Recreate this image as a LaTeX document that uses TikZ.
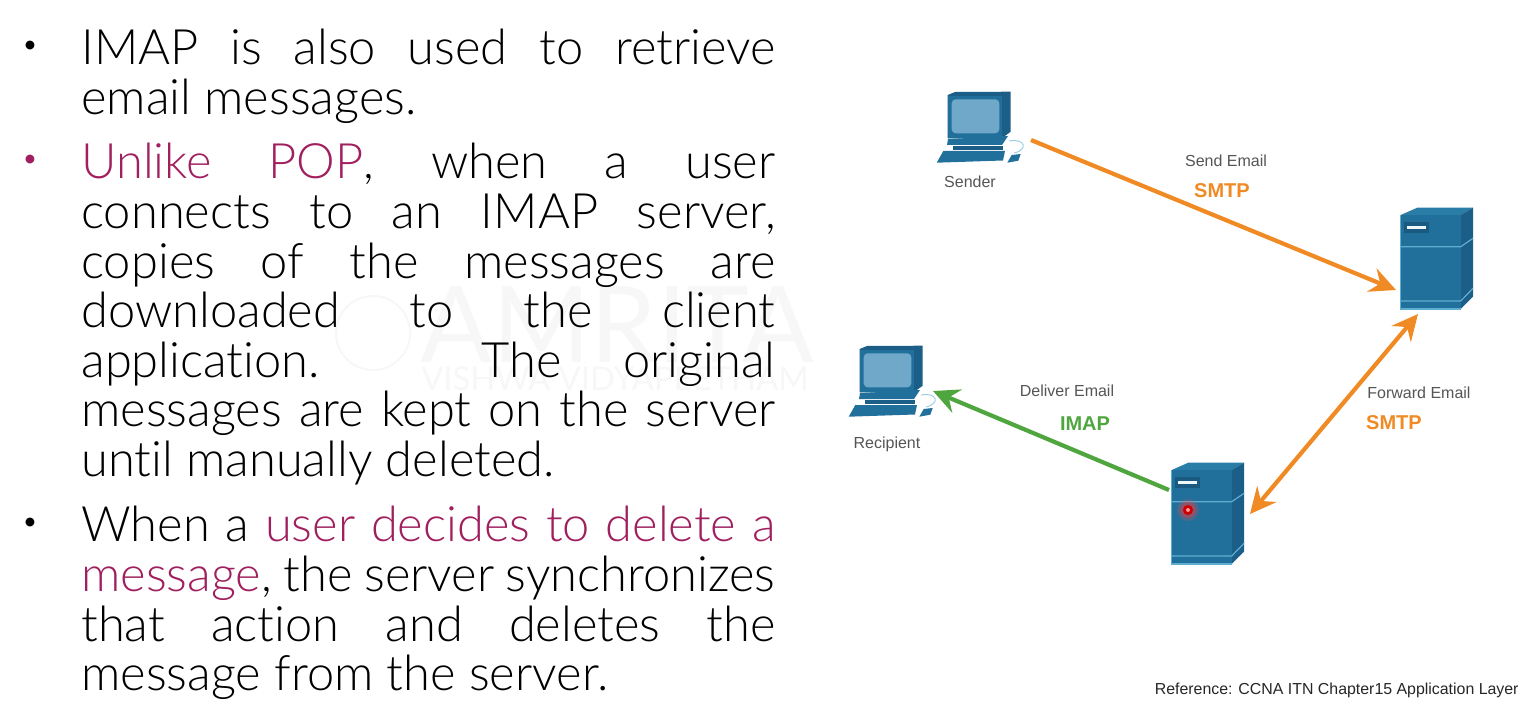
\documentclass[tikz,border=0pt]{standalone}
\usepackage{fontspec}
\setmainfont{Lato}[UprightFont=* Light,Ligatures=NoCommon]
\newfontfamily\labelfont{Liberation Sans}
\newfontfamily\markfont{Lato}
\usetikzlibrary{arrows.meta,positioning,calc}
\definecolor{maroontext}{HTML}{A01F5E}
\definecolor{srvfront}{HTML}{21709C}
\definecolor{srvside}{HTML}{1B5F88}
\definecolor{srvtop}{HTML}{2A7DA6}
\definecolor{srvedge}{HTML}{5FAED0}
\definecolor{srvdark}{HTML}{1A5A80}
\definecolor{pcscreen}{HTML}{6FA8C8}
\definecolor{mailorange}{HTML}{F08A24}
\definecolor{mailgreen}{HTML}{4FA63F}
\definecolor{labelgrey}{HTML}{555555}
\tikzset{
  slidetext/.style={anchor=north west,inner sep=0pt,text width=347pt,align=justify,
    font=\fontsize{24.4}{24.8}\selectfont,text=black},
  bulletdot/.style={anchor=center,inner sep=0pt,font=\fontsize{15}{15}\selectfont},
  hostlabel/.style={inner sep=0pt,font=\labelfont\fontsize{8}{9}\selectfont,text=labelgrey},
  protolabel/.style={inner sep=0pt,font=\labelfont\bfseries\fontsize{10}{12}\selectfont},
  mailarrow/.style={line width=2.1pt,-{Stealth[length=13pt,width=12.5pt,inset=4.5pt]}},
  mailboth/.style={line width=2.1pt,{Stealth[length=13pt,width=12.5pt,inset=4.5pt]}-{Stealth[length=13pt,width=12.5pt,inset=4.5pt]}},
  pcicon/.pic={
    % monitor
    \fill[srvside] (27.7,25) -- (35,22) -- (90.7,21.7) -- (90.7,61.7) -- (81.7,68.3) -- (27.7,68.3) -- cycle;
    \fill[srvfront] (27.7,26) -- (81.7,26) -- (81.7,68.3) -- (27.7,68.3) -- cycle;
    \fill[pcscreen,rounded corners=2pt] (31.7,29.3) rectangle (79.3,63.3);
    % base
    \fill[srvfront] (28,69) -- (88,66) -- (82,75) -- (27,75) -- cycle;
    \fill[srvside] (33,76) rectangle (83,80);
    % keyboard and mouse
    \fill[srvfront] (16.7,92.7) -- (23.3,81) -- (85,81) -- (83,90.5) -- cycle;
    \fill[srvfront] (87.3,92.7) -- (91.7,85) -- (100.7,84) -- (98.3,90.7) -- cycle;
    \draw[srvedge!60,line width=.5pt] (89,71) .. controls (106,68) and (108,80) .. (94,83);
  },
  srvicon/.pic={
    % body of the tower
    \fill[srvtop] (41.7,30) -- (58.3,22.7) -- (114,22.7) -- (101.7,30) -- cycle;
    \fill[srvside] (101.7,30) -- (114,22.7) -- (114,111.7) -- (101.7,124) -- cycle;
    \fill[srvfront] (41.7,30) rectangle (101.7,124);
    % light edges
    \draw[srvedge,line width=.6pt] (41.7,30) -- (41.7,124) -- (101.7,124);
    \draw[srvedge,line width=.6pt] (41.7,61.7) -- (101.7,61.7) -- (114,53.3);
    \draw[srvedge,line width=.6pt] (41.7,116) -- (101.7,116) -- (114,103.3);
    % drive slot
    \fill[srvdark] (45,36.7) rectangle (70,47.7);
    \fill[white!90!srvedge] (48.3,40.7) rectangle (66.7,44.3);
  }
}
\begin{document}
\begin{tikzpicture}[x=.5pt,y=-.5pt]
  \useasboundingbox (0,0) rectangle (1522,701);
  % draw watermark
  \draw[black!3,line width=1pt] (373,333) circle (37);
  \node (markname) [inner sep=0pt,text=black!3,font=\markfont\fontsize{53}{53}\selectfont] at (617,325) {AMRITA};
  \node (markplace) [inner sep=0pt,text=black!3,font=\markfont\fontsize{16.4}{17}\selectfont] at (615,379) {VISHWA VIDYAPEETHAM};
  % draw bullets
  \node (dotone) [bulletdot] at (30,48) {•};
  \node (dottwo) [bulletdot,text=maroontext] at (30,162) {•};
  \node (dotthree) [bulletdot] at (30,525) {•};
  % draw paragraphs
  \node (imapused) [slidetext] at (81,29) {IMAP is also used to retrieve\linebreak email messages.};
  \node (imapcopies) [slidetext] at (81,143) {{\color{maroontext}Unlike POP}, when a user\linebreak
    connects to an IMAP server,\linebreak
    copies of the messages are\linebreak
    downloaded to the client\linebreak
    application. The original\linebreak
    messages are kept on the server\linebreak
    until manually deleted.};
  \node (imapdelete) [slidetext] at (81,506) {When a {\color{maroontext}user decides to delete a\linebreak
    message}, the server synchronizes\linebreak
    that action and deletes the\linebreak
    message from the server.};
  % draw hosts and servers
  \pic at (920,70) {pcicon};
  \pic at (832,324) {pcicon};
  \pic at (1359,185) {srvicon};
  \pic at (1130,440) {srvicon};
  % red light on the lower server
  \fill[red!70!white,opacity=.2] (1188,510) circle (11);
  \fill[red!80!white,opacity=.4] (1188,510) circle (8);
  \fill[red!80!black] (1188,510) circle (5);
  \fill[white!60!red] (1188,510) circle (2);
  % draw labels
  \node (sender) [hostlabel] at (970,182) {Sender};
  \node (recipient) [hostlabel] at (887,444) {Recipient};
  \node (sendmail) [hostlabel] at (1226,161) {Send Email};
  \node (sendproto) [protolabel,text=mailorange] at (1222,191) {SMTP};
  \node (forwardmail) [hostlabel] at (1419,393) {Forward Email};
  \node (forwardproto) [protolabel,text=mailorange] at (1394,423) {SMTP};
  \node (delivermail) [hostlabel] at (1067,391) {Deliver Email};
  \node (deliverproto) [protolabel,text=mailgreen] at (1085,424) {IMAP};
  \node (reference) [inner sep=0pt,font=\labelfont\fontsize{7.95}{9}\selectfont,text=black!85,anchor=east] at (1519,690) {Reference: CCNA ITN Chapter15 Application Layer};
  % draw arrows
  \coordinate (senderout) at (1031,140);
  \coordinate (serverin) at (1396,290);
  \coordinate (serverlow) at (1418,314);
  \coordinate (relayin) at (1250,514);
  \coordinate (relayout) at (1169,490);
  \coordinate (recipientin) at (933,391);
  \draw[mailarrow,mailorange] (senderout) -- (serverin);
  \draw[mailboth,mailorange] (serverlow) -- (relayin);
  \draw[mailarrow,mailgreen] (relayout) -- (recipientin);
\end{tikzpicture}
\end{document}
